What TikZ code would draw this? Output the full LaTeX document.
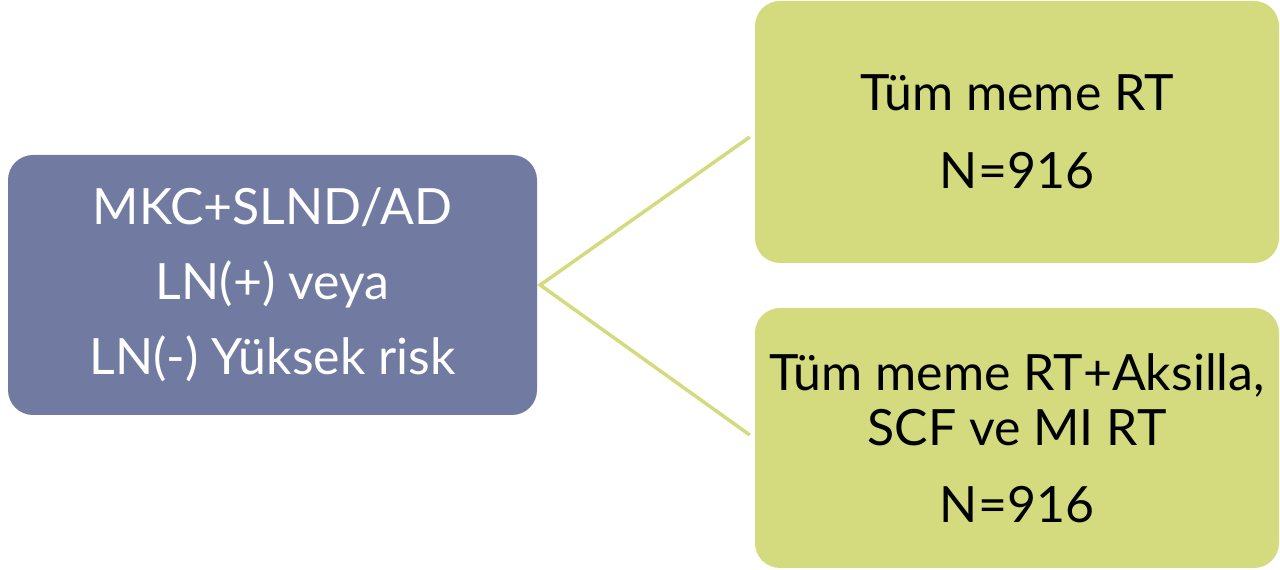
\documentclass[tikz,border=0pt]{standalone}
\usepackage{fontspec}
\setmainfont{Lato}
\definecolor{boxblue}{HTML}{717BA1}
\definecolor{boxgreen}{HTML}{D4DA7E}
\begin{document}
\begin{tikzpicture}[x=1pt,y=1pt,
  box/.style={rectangle,rounded corners=25pt,inner sep=0pt,align=center,
    font=\fontsize{50}{55}\selectfont},
  conn/.style={draw=boxgreen,line width=3.5pt}]
\useasboundingbox (0,0) rectangle (1280,570);
\node[box,fill=boxblue,text=white,minimum width=529pt,minimum height=260pt] (L) at (272.5,285)
  {MKC+SLND/AD\\[20pt]LN(+) veya\\[20pt]LN(-) Yüksek risk};
\node[box,fill=boxgreen,minimum width=524pt,minimum height=262pt] (T) at (1017,438)
  {Tüm meme RT\\[23pt]N=916};
\node[box,fill=boxgreen,minimum width=524pt,minimum height=260pt] (B) at (1017,132)
  {Tüm meme RT+Aksilla,\\SCF ve MI RT\\[22pt]N=916};
\coordinate (j) at ([xshift=3pt]L.east);
\coordinate (tj) at ([xshift=-5pt,yshift=-5pt]T.west);
\coordinate (bj) at ([xshift=-5pt,yshift=3pt]B.west);
\draw[conn] (tj) -- (j) -- (bj);
\end{tikzpicture}
\end{document}
